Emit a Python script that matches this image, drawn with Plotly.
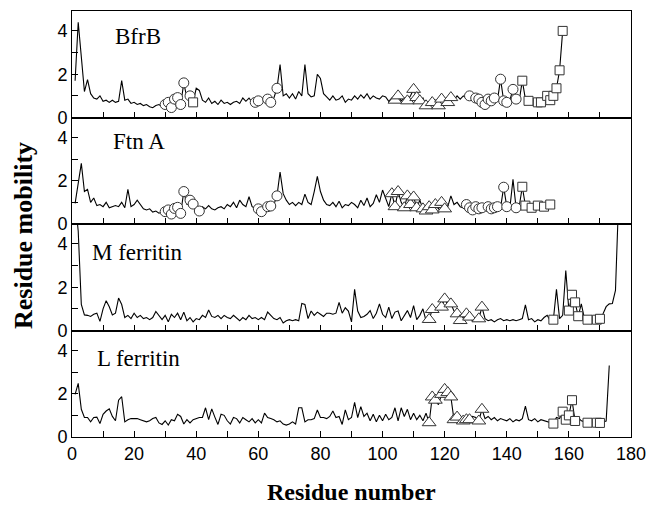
import plotly.graph_objects as go

# ---------------- data (residue mobility) ----------------
panel_names = ["BfrB", "Ftn A", "M ferritin", "L ferritin"]

bfrb = [
    1.7, 4.4, 2.8, 1.2, 1.75, 1.1, 0.9, 0.85, 1.0, 0.75,
    0.8, 0.7, 0.8, 0.7, 0.75, 1.7, 0.8, 0.85, 0.65, 0.7,
    0.6, 0.65, 0.55, 0.6, 0.5, 0.45, 0.55, 0.6, 0.5, 0.6,
    0.7, 0.46, 0.85, 0.92, 0.6, 1.6, 0.9, 1.0, 0.7, 1.35,
    1.25, 0.8, 0.7, 0.9, 0.65, 0.75, 0.6, 0.8, 0.65, 0.7,
    0.6, 0.7, 0.75, 0.65, 0.9, 0.75, 0.9, 0.7, 0.7, 0.77,
    0.75, 0.85, 0.85, 0.7, 0.9, 1.35, 2.45, 1.0, 1.1, 0.9,
    1.1, 0.85, 1.2, 1.0, 2.45, 1.1, 0.95, 1.0, 2.0, 1.8,
    1.1, 0.95, 0.8, 1.0, 0.8, 0.85, 1.0, 0.7, 0.85, 0.8,
    1.0, 0.85, 1.05, 0.9, 1.1, 0.85, 1.0, 0.9, 0.85, 1.0,
    0.95, 0.75, 0.9, 0.8, 1.0, 0.77, 0.9, 0.77, 1.0, 1.3,
    0.92, 0.77, 0.9, 0.54, 0.7, 0.69, 0.8, 0.54, 0.85, 0.9,
    0.69, 0.92, 0.8, 1.0, 0.85, 1.0, 0.9, 1.0, 0.8, 0.9,
    0.85, 0.7, 0.6, 0.85, 0.77, 0.9, 0.8, 1.77, 0.77, 0.7,
    0.8, 1.3, 0.85, 0.77, 1.7, 0.85, 0.77, 0.8, 0.75, 0.7,
    0.7, 0.9, 1.0, 0.8, 1.0, 1.35, 2.18, 4.0,
]
bfrb_circles = [30, 31, 32, 33, 34, 35, 36, 38, 59, 60, 63, 64, 66,
                128, 130, 131, 132, 133, 134, 135, 136, 138, 139, 140, 142, 143]
bfrb_triangles = [104, 105, 108, 110, 111, 112, 114, 116, 118, 119, 121, 122]
bfrb_squares = [39, 145, 147, 150, 151, 153, 154, 155, 156, 157, 158]

ftna = [
    0.95, 1.9, 2.8, 1.5, 1.6, 1.0, 1.2, 0.85, 0.9, 0.8,
    1.0, 0.75, 0.8, 0.85, 0.8, 1.0, 0.75, 1.6, 0.8, 0.9,
    1.1, 0.9, 0.7, 0.65, 0.7, 0.55, 0.6, 0.5, 0.55, 0.57,
    0.65, 0.46, 0.72, 0.77, 0.49, 1.5, 0.9, 1.1, 0.92, 0.8,
    0.6, 0.8, 0.7, 0.85, 0.7, 0.65, 0.75, 0.8, 0.7, 0.9,
    0.8, 1.0, 0.75, 1.1, 0.9, 0.8, 1.26, 0.8, 0.72, 0.7,
    0.57, 0.75, 0.8, 0.83, 0.9, 1.3, 2.4, 1.4, 1.1, 0.9,
    1.0, 0.85, 1.0, 0.9, 1.38, 1.0, 0.9, 1.5, 2.2, 1.5,
    1.1, 0.9, 0.85, 1.0, 0.8, 1.05, 0.75, 0.9, 0.85, 1.0,
    0.9, 0.75, 1.1, 0.85, 1.2, 0.8, 0.95, 1.35, 1.0, 1.57,
    1.2, 0.8, 1.4, 0.8, 1.5, 1.0, 0.75, 1.3, 0.9, 1.25,
    0.75, 1.1, 0.7, 0.6, 0.8, 0.65, 0.9, 0.7, 1.0, 0.7,
    0.8, 1.3, 0.9, 1.0, 0.8, 0.75, 0.9, 0.75, 0.65, 0.8,
    0.7, 0.75, 0.85, 0.8, 0.7, 0.75, 0.8, 0.75, 1.7, 0.8,
    0.75, 2.06, 0.75, 0.8, 1.72, 0.85, 0.8, 0.75, 0.7, 0.85,
    0.95, 0.8, 1.0, 0.9,
]
ftna_circles = [30, 31, 32, 33, 34, 35, 36, 38, 39, 41, 60, 61, 63, 64, 66,
                127, 128, 129, 130, 131, 132, 134, 135, 136, 137, 139, 140, 143]
ftna_triangles = [103, 104, 105, 107, 108, 109, 110, 111, 113, 114, 115, 116, 117, 119, 120]
ftna_squares = [145, 146, 148, 150, 152, 154]

mfer = [
    6.0, 4.6, 1.2, 0.72, 0.7, 0.65, 0.75, 0.8, 0.42, 1.0,
    1.38, 1.1, 0.72, 0.8, 1.5, 1.2, 0.6, 0.7, 0.55, 0.8,
    0.6, 0.7, 0.55, 0.6, 0.5, 0.6, 0.88, 0.7, 0.5, 0.7,
    0.4, 0.75, 0.6, 0.8, 0.5, 0.85, 0.45, 0.6, 0.4, 0.55,
    0.5, 0.7, 0.6, 0.95, 0.65, 0.6, 0.7, 0.55, 0.7, 0.6,
    0.55, 0.7, 0.55, 0.45, 0.6, 0.5, 0.7, 0.55, 0.6, 0.5,
    0.6, 0.5, 0.85, 0.7, 0.55, 0.5, 0.6, 0.35, 0.45, 0.5,
    0.45, 0.5, 0.45, 1.25, 1.2, 0.55, 0.9, 0.7, 0.85, 0.75,
    0.65, 0.8, 0.8, 0.75, 0.8, 1.3, 0.8, 1.05, 0.9, 0.4,
    1.9, 0.9, 0.6, 0.65, 0.75, 0.92, 0.55, 0.8, 1.23, 0.75,
    0.6, 1.08, 0.55, 0.85, 0.9, 0.45, 0.7, 0.92, 0.6, 1.15,
    0.5, 0.7, 1.0, 0.45, 0.51, 0.97, 0.85, 1.0, 1.08, 1.46,
    1.2, 1.23, 0.9, 0.77, 0.46, 0.6, 0.77, 0.62, 0.45, 0.5,
    0.54, 1.08, 0.55, 0.45, 0.5, 0.4, 0.5, 0.55, 0.45, 0.5,
    0.45, 0.5, 0.45, 0.5, 0.55, 1.18, 0.5, 0.55, 0.4, 0.5,
    0.45, 0.6, 0.7, 0.45, 0.5, 1.9, 0.55, 0.7, 2.77, 0.92,
    1.65, 1.3, 0.66, 1.23, 0.55, 0.5, 0.45, 0.5, 0.5, 0.54,
    0.77, 1.1, 1.23, 1.25, 1.85, 6.0,
]
mfer_circles = []
mfer_triangles = [115, 116, 119, 120, 122, 124, 125, 127, 128, 131, 132]
mfer_squares = [155, 160, 161, 162, 163, 166, 169, 170]

lfer = [
    1.97, 2.48, 1.28, 0.9, 0.9, 0.7, 0.9, 0.92, 0.62, 1.05,
    1.2, 1.3, 0.95, 0.75, 1.7, 1.86, 0.7, 0.8, 0.85, 0.85,
    0.85, 0.8, 0.75, 0.7, 0.75, 0.85, 0.9, 0.65, 0.58, 0.75,
    0.55, 0.8, 0.75, 1.05, 0.95, 0.6, 0.8, 0.65, 0.8, 0.85,
    0.9, 0.9, 1.35, 0.8, 1.3, 0.92, 0.58, 1.05, 1.0, 0.75,
    0.6, 0.9, 0.85, 0.65, 0.9, 0.8, 0.7, 0.85, 0.65, 0.8,
    0.65, 1.1, 0.9, 0.85, 0.8, 0.7, 0.75, 0.6, 0.55, 0.6,
    0.7, 0.6, 1.35, 1.35, 0.7, 0.8, 0.8, 0.85, 1.25, 0.9,
    0.9, 0.85, 0.95, 1.2, 0.9, 0.95, 0.58, 1.25, 0.8, 0.9,
    1.6, 0.9, 1.4, 0.95, 1.1, 0.75, 1.05, 0.7, 1.0, 0.75,
    1.05, 0.8, 0.9, 1.35, 0.75, 1.35, 0.95, 1.28, 0.8, 1.1,
    0.8, 1.0, 0.75, 1.1, 0.66, 1.85, 1.7, 1.5, 1.97, 2.2,
    2.05, 1.85, 0.8, 0.92, 0.85, 0.74, 0.8, 0.8, 0.95, 0.9,
    0.74, 1.28, 0.85, 0.95, 0.8, 0.9, 0.75, 0.85, 0.8, 0.75,
    0.85, 0.7, 0.8, 0.75, 0.85, 1.43, 0.8, 0.75, 0.85, 0.7,
    0.8, 0.75, 0.7, 0.65, 0.62, 0.9, 0.85, 1.17, 0.8, 1.0,
    1.7, 0.74, 0.9, 0.75, 0.7, 0.66, 0.7, 0.68, 0.66, 0.65,
    0.7, 0.74, 3.3,
]
lfer_circles = []
lfer_triangles = [115, 116, 117, 119, 120, 121, 122, 123, 124, 126, 127, 128, 131, 132]
lfer_squares = [155, 158, 159, 160, 161, 162, 166, 169, 170]

series = [
    (bfrb, bfrb_circles, bfrb_triangles, bfrb_squares),
    (ftna, ftna_circles, ftna_triangles, ftna_squares),
    (mfer, mfer_circles, mfer_triangles, mfer_squares),
    (lfer, lfer_circles, lfer_triangles, lfer_squares),
]

x_ticks = [0, 20, 40, 60, 80, 100, 120, 140, 160, 180]
y_ticks = [0, 2, 4]

# ---------------- figure ----------------
W, H = 656, 506
L, R, T, B = 72, 19, 10, 69
fig = go.Figure()

serif = "Liberation Serif, Times New Roman, serif"
sans = "Liberation Sans, Arial, sans-serif"
marker_line = dict(color="#333333", width=1)

n = len(series)
for i, (vals, circ, tri, sq) in enumerate(series):
    k = "" if i == 0 else str(i + 1)
    xa, ya = "x" + k, "y" + k
    xs = list(range(1, len(vals) + 1))
    fig.add_trace(go.Scatter(x=xs, y=vals, mode="lines", xaxis=xa, yaxis=ya,
                             line=dict(color="black", width=1.1), showlegend=False,
                             hoverinfo="skip"))
    for idx, sym, size in ((circ, "circle", 10), (tri, "triangle-up", 12), (sq, "square", 9)):
        if not idx:
            continue
        fig.add_trace(go.Scatter(
            x=idx, y=[vals[j - 1] for j in idx], mode="markers", xaxis=xa, yaxis=ya,
            marker=dict(symbol=sym, size=size, color="white", line=marker_line),
            showlegend=False, cliponaxis=True))
    top = 1 - i / n
    bot = 1 - (i + 1) / n
    fig.layout["xaxis" + k] = dict(
        domain=[0, 1], range=[0, 180], anchor=ya,
        tickvals=x_ticks, ticks="inside", ticklen=6, tickwidth=1, tickcolor="black",
        minor=dict(dtick=10, tick0=0, ticks="inside", ticklen=6, tickwidth=1, tickcolor="black"),
        showticklabels=(i == n - 1), showgrid=False, zeroline=False,
        showline=True, linecolor="black", linewidth=1, mirror=True,
        tickfont=dict(family=sans, size=18, color="black"))
    fig.layout["yaxis" + k] = dict(
        domain=[bot, top], range=[0, 4.92], anchor=xa,
        tickvals=y_ticks, ticks="inside", ticklen=6, tickwidth=1, tickcolor="black",
        minor=dict(dtick=1, tick0=0, ticks="inside", ticklen=6, tickwidth=1, tickcolor="black"),
        showgrid=False, zeroline=False,
        showline=True, linecolor="black", linewidth=1, mirror=True,
        tickfont=dict(family=sans, size=18, color="black"))

# panel labels (left x in px, centre y in px)
label_pos = [(113, 36), (111, 141), (90, 252), (95, 358)]
ph = H - T - B
pw = W - L - R
for name, (px, py) in zip(panel_names, label_pos):
    fig.add_annotation(text=name, xref="paper", yref="paper",
                       x=(px - L) / pw, y=(H - B - py) / ph, xanchor="left", yanchor="middle",
                       showarrow=False, font=dict(family=serif, size=23, color="black"))

fig.add_annotation(text="<b>Residue number</b>", xref="paper", yref="paper",
                   x=0.5, y=(H - B - 492) / ph, xanchor="center", yanchor="middle",
                   showarrow=False, font=dict(family=serif, size=24, color="black"))
fig.add_annotation(text="<b>Residue mobility</b>", xref="paper", yref="paper",
                   x=(23 - L) / pw, y=(H - B - 235) / ph, xanchor="center", yanchor="middle",
                   textangle=-90, showarrow=False, font=dict(family=serif, size=26, color="black"))

fig.update_layout(width=W, height=H, margin=dict(l=L, r=R, t=T, b=B),
                  plot_bgcolor="white", paper_bgcolor="white")

fig.write_html("out.html", config={"displayModeBar": False},
               post_script="document.body.style.margin='0';document.body.style.overflow='hidden';")
